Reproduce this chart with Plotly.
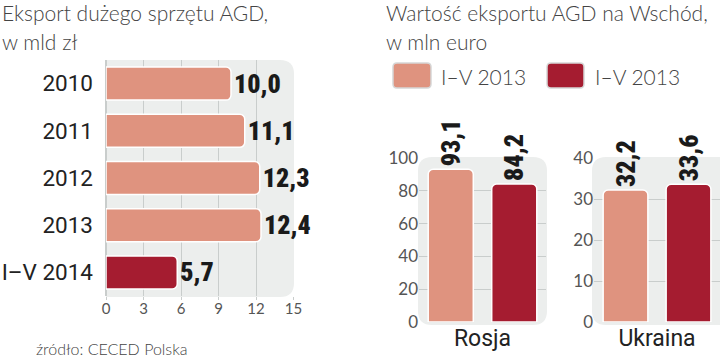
import plotly.graph_objects as go

# ---------------- data ----------------
years = ["2010", "2011", "2012", "2013", "I–V 2014"]
export_values = [10.0, 11.1, 12.3, 12.4, 5.7]

countries = ["Rosja", "Ukraina"]
series_names = ["I–V 2013", "I–V 2013"]
east_series_a = [93.1, 32.2]
east_series_b = [84.2, 33.6]

left_ticks = [0, 3, 6, 9, 12, 15]
rosja_ticks = [0, 20, 40, 60, 80, 100]
ukraina_ticks = [0, 10, 20, 30, 40]

# ---------------- style ----------------
W, H = 720, 357
LIGHT = "#DF937F"
DARK = "#A51C30"
PANEL = "#ECEEED"
GRID = "#C9CDCC"
TXT = "#444444"
VAL_FONT = dict(family="Roboto Condensed, Roboto, DejaVu Sans Condensed, sans-serif",
                size=26, color="#1a1a1a", weight=900)
TITLE_FONT = dict(family="Lato, Open Sans, sans-serif", size=21, color=TXT, weight=300)
TICK_FONT = dict(family="Lato, Open Sans, sans-serif", size=15, color="#555555")


def fmt(v):
    return f"{v:.1f}".replace(".", ",")


def px_x(p):
    return p / W


def px_y(p):
    return 1 - p / H


fig = go.Figure()

# left: horizontal bars
fig.add_trace(go.Bar(
    y=years, x=export_values, orientation="h",
    marker=dict(color=[DARK if y.startswith("I–V") else LIGHT for y in years],
                line=dict(color="white", width=1.5), cornerradius=5),
    width=0.7,
    text=[fmt(v) for v in export_values], textposition="outside",
    textfont=VAL_FONT, cliponaxis=False, constraintext="none",
    xaxis="x", yaxis="y", showlegend=False, hoverinfo="skip",
))

# right: grouped vertical bars per country
axes_pairs = [("x2", "y2"), ("x3", "y3")]
for i, (xa, ya) in enumerate(axes_pairs):
    for vals, color, name in [(east_series_a, LIGHT, series_names[0]),
                              (east_series_b, DARK, series_names[1])]:
        fig.add_trace(go.Bar(
            x=[countries[i]], y=[vals[i]], name=name,
            marker=dict(color=color, line=dict(color="white", width=1.5), cornerradius=5),
            text=[fmt(vals[i])], textposition="outside", textangle=-90,
            textfont=VAL_FONT, cliponaxis=False, constraintext="none",
            xaxis=xa, yaxis=ya, showlegend=False, hoverinfo="skip",
        ))

# panels (rounded backgrounds)
def rounded_path(x0, y0, x1, y1, r, round_left=True):
    rx, ry = r / W, r / H
    X0, X1 = px_x(x0), px_x(x1)
    Y0, Y1 = px_y(y0), px_y(y1)  # Y0 top, Y1 bottom (paper)
    if round_left:
        return (f"M {X0+rx},{Y0} L {X1-rx},{Y0} Q {X1},{Y0} {X1},{Y0-ry} "
                f"L {X1},{Y1+ry} Q {X1},{Y1} {X1-rx},{Y1} L {X0+rx},{Y1} "
                f"Q {X0},{Y1} {X0},{Y1+ry} L {X0},{Y0-ry} Q {X0},{Y0} {X0+rx},{Y0} Z")
    return (f"M {X0},{Y0} L {X1-rx},{Y0} Q {X1},{Y0} {X1},{Y0-ry} "
            f"L {X1},{Y1+ry} Q {X1},{Y1} {X1-rx},{Y1} L {X0},{Y1} Z")


def swatch_path(x0, y0, x1, y1, r):
    return rounded_path(x0, y0, x1, y1, r)


shapes = [
    dict(type="path", xref="paper", yref="paper", layer="below",
         path=rounded_path(106, 60, 294, 297, 14, round_left=False),
         fillcolor=PANEL, line=dict(width=0)),
    dict(type="path", xref="paper", yref="paper", layer="below",
         path=rounded_path(418, 157, 547, 325, 14),
         fillcolor=PANEL, line=dict(width=0)),
    dict(type="path", xref="paper", yref="paper", layer="below",
         path=rounded_path(592, 157, 735, 325, 14),
         fillcolor=PANEL, line=dict(width=0)),
    # legend swatches
    dict(type="path", xref="paper", yref="paper",
         path=swatch_path(393, 63, 431, 88, 4),
         fillcolor=LIGHT, line=dict(color="#d6d6d6", width=1.5)),
    dict(type="path", xref="paper", yref="paper",
         path=swatch_path(547, 63, 584, 88, 4),
         fillcolor=DARK, line=dict(color="#d6d6d6", width=1.5)),
]

annotations = [
    dict(text="Eksport dużego sprzętu AGD,", x=0, y=px_y(13), xref="paper", yref="paper",
         xanchor="left", yanchor="middle", showarrow=False, font=TITLE_FONT),
    dict(text="w mld zł", x=0, y=px_y(41), xref="paper", yref="paper",
         xanchor="left", yanchor="middle", showarrow=False, font=TITLE_FONT),
    dict(text="Wartość eksportu AGD na Wschód,", x=px_x(384), y=px_y(13), xref="paper", yref="paper",
         xanchor="left", yanchor="middle", showarrow=False, font=TITLE_FONT),
    dict(text="w mln euro", x=px_x(384), y=px_y(41), xref="paper", yref="paper",
         xanchor="left", yanchor="middle", showarrow=False, font=TITLE_FONT),
    dict(text=series_names[0], x=px_x(439), y=px_y(76), xref="paper", yref="paper",
         xanchor="left", yanchor="middle", showarrow=False,
         font=dict(family="Lato, Open Sans, sans-serif", size=21, color=TXT, weight=300)),
    dict(text=series_names[1], x=px_x(593), y=px_y(76), xref="paper", yref="paper",
         xanchor="left", yanchor="middle", showarrow=False,
         font=dict(family="Lato, Open Sans, sans-serif", size=21, color=TXT, weight=300)),
    dict(text="źródło: CECED Polska", x=px_x(34), y=px_y(348), xref="paper", yref="paper",
         xanchor="left", yanchor="middle", showarrow=False,
         font=dict(family="Lato, Open Sans, sans-serif", size=16, color=TXT, weight=300)),
]

cat_font = dict(family="Roboto, Open Sans, sans-serif", size=22.5, color="#222222")

fig.update_layout(
    width=W, height=H,
    margin=dict(l=0, r=0, t=0, b=0, pad=0, autoexpand=False),
    paper_bgcolor="white", plot_bgcolor="rgba(0,0,0,0)",
    barmode="group", bargap=0.0, bargroupgap=0.29,
    shapes=shapes, annotations=annotations,
    xaxis=dict(domain=[px_x(106), px_x(293.5)], range=[0, 15], tickvals=left_ticks,
               showgrid=True, gridcolor=GRID, gridwidth=1, zeroline=True, zerolinecolor=GRID,
               ticks="outside", ticklen=3, tickcolor=GRID, tickfont=TICK_FONT, anchor="y",
               ticklabelstandoff=-4, automargin=False),
    yaxis=dict(domain=[px_y(296), px_y(60)], type="category", categoryorder="array",
               categoryarray=years, autorange="reversed", showgrid=False, zeroline=False,
               tickfont=cat_font, ticks="", ticklabelstandoff=12, anchor="x", automargin=False),
    xaxis2=dict(domain=[px_x(419), px_x(546)], anchor="y2", showgrid=False,
                tickfont=dict(family="Roboto, Open Sans, sans-serif", size=23, color="#222222"),
                ticks="", automargin=False),
    yaxis2=dict(domain=[px_y(322), px_y(158)], range=[0, 100], tickvals=rosja_ticks, anchor="x2",
                showgrid=True, gridcolor=GRID, zeroline=False, tickfont=dict(TICK_FONT, size=17),
                automargin=False),
    xaxis3=dict(domain=[px_x(594), 1.0], anchor="y3", showgrid=False,
                tickfont=dict(family="Roboto, Open Sans, sans-serif", size=23, color="#222222"),
                ticks="", automargin=False),
    yaxis3=dict(domain=[px_y(322), px_y(158)], range=[0, 40], tickvals=ukraina_ticks, anchor="x3",
                showgrid=True, gridcolor=GRID, zeroline=False, tickfont=dict(TICK_FONT, size=17),
                automargin=False),
)

fig.write_html("out.html", config={"displayModeBar": False},
               post_script="document.body.style.margin='0';")
